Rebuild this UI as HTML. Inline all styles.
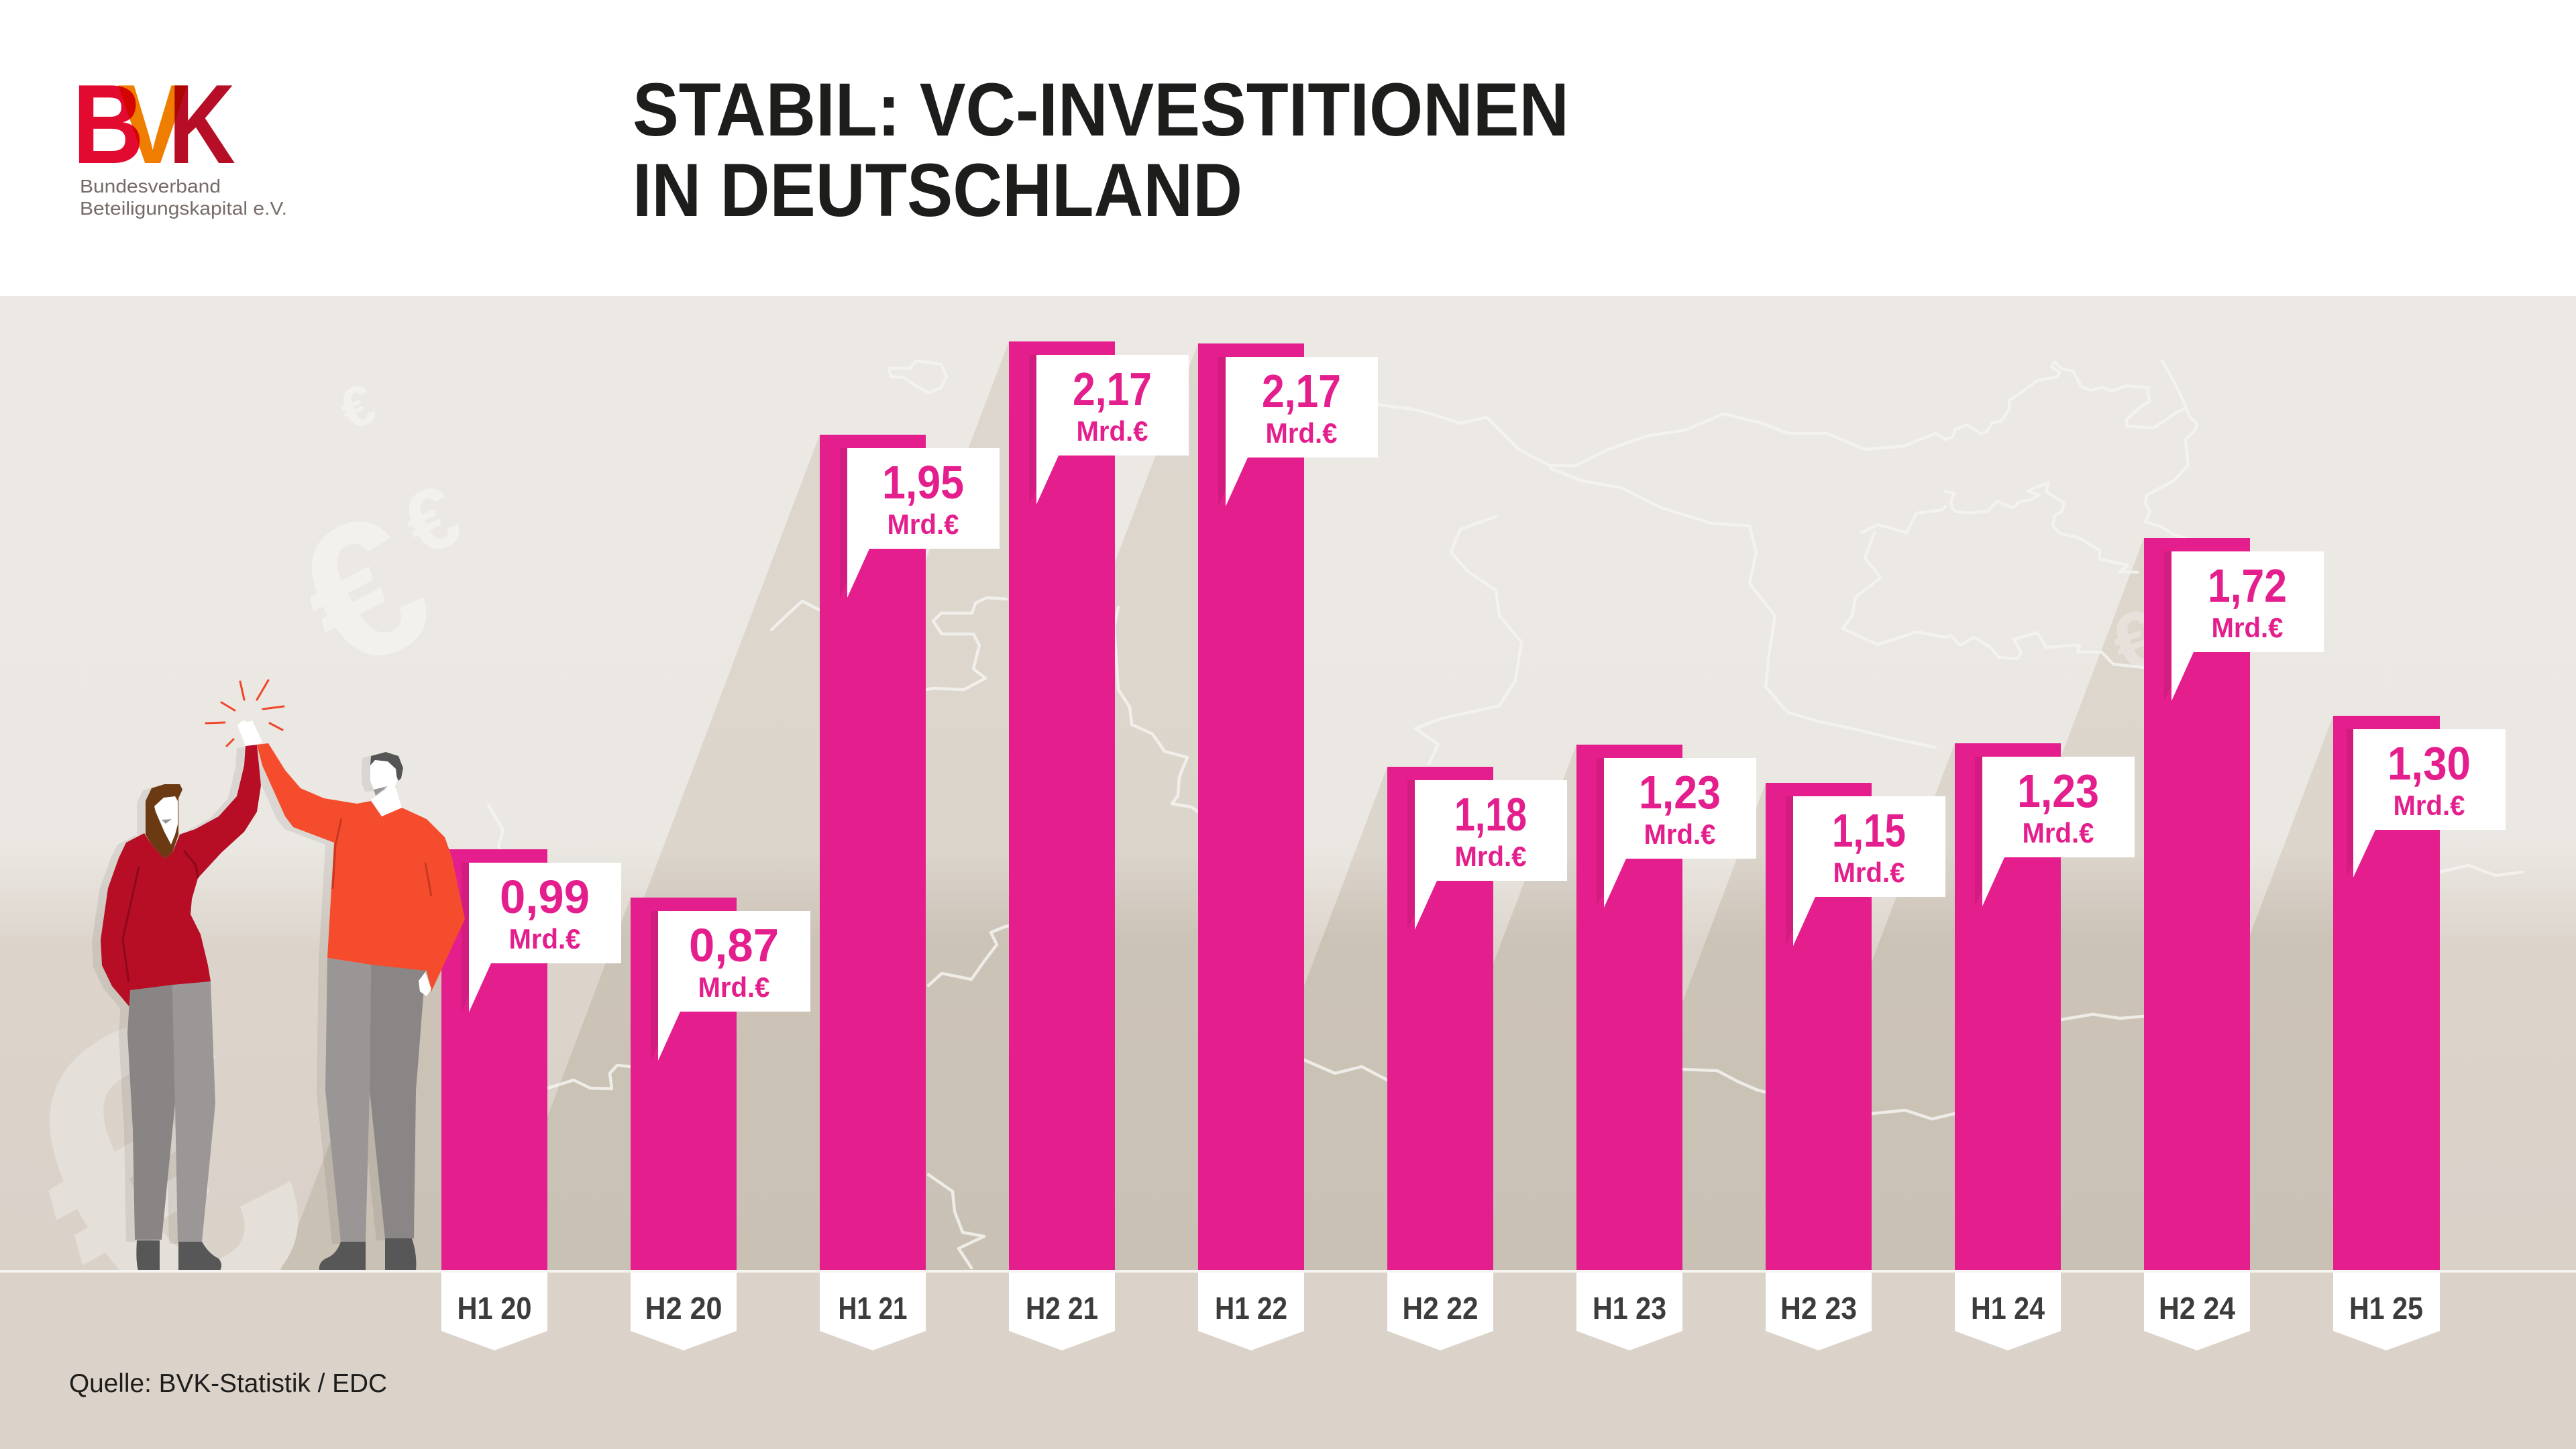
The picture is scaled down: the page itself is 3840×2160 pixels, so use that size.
<!DOCTYPE html>
<html><head><meta charset="utf-8"><style>
html,body{margin:0;padding:0;background:#fff;width:3840px;height:2160px;overflow:hidden;}
svg{display:block;}
text{font-family:"Liberation Sans",Arial,sans-serif;}
.n{font-size:70px;font-weight:700;fill:#e41f8d;text-anchor:middle;}
.m{font-size:42px;font-weight:700;fill:#e41f8d;text-anchor:middle;}
.c{font-size:46px;font-weight:700;fill:#3c3c3b;text-anchor:middle;}
.map{fill:none;stroke:#f5f3f0;stroke-width:4.5;stroke-linejoin:round;stroke-linecap:round;opacity:.85;}
</style></head><body>
<svg width="3840" height="2160" viewBox="0 0 3840 2160" xmlns="http://www.w3.org/2000/svg" overflow="hidden">
<defs>
<linearGradient id="lit" gradientUnits="userSpaceOnUse" x1="0" y1="441" x2="0" y2="1894">
<stop offset="0" stop-color="#ece9e4"/><stop offset="0.56" stop-color="#ebe8e3"/><stop offset="0.67" stop-color="#dcd4cb"/><stop offset="1" stop-color="#dad2c9"/>
</linearGradient>
<linearGradient id="shd" gradientUnits="userSpaceOnUse" x1="0" y1="441" x2="0" y2="1894">
<stop offset="0" stop-color="#ddd7ce"/><stop offset="0.57" stop-color="#dcd5cc"/><stop offset="0.66" stop-color="#ccc3b7"/><stop offset="1" stop-color="#cac1b5"/>
</linearGradient>
<clipPath id="chart"><rect x="0" y="441" width="3840" height="1453"/></clipPath>
</defs>

<!-- header -->
<rect x="0" y="0" width="3840" height="441" fill="#fff"/>
<!-- chart background -->
<rect x="0" y="441" width="3840" height="1453" fill="url(#lit)"/>

<g clip-path="url(#chart)">
<!-- bar shadows -->
<g fill="url(#shd)">
<polygon points="658,1266 419,1894 658,1894"/>
<polygon points="940,1338 729,1894 940,1894"/>
<polygon points="1222,648 749,1894 1222,1894"/>
<polygon points="1504,509 978,1894 1504,1894"/>
<polygon points="1786,512 1261,1894 1786,1894"/>
<polygon points="2068,1143 1783,1894 2068,1894"/>
<polygon points="2350,1110 2052,1894 2350,1894"/>
<polygon points="2632,1167 2356,1894 2632,1894"/>
<polygon points="2914,1108 2615,1894 2914,1894"/>
<polygon points="3196,802 2781,1894 3196,1894"/>
<polygon points="3478,1067 3164,1894 3478,1894"/>
</g>
<!-- euro symbols -->
<text x="240" y="1750" font-size="620" font-weight="700" fill="#e4dfd9" text-anchor="middle" dominant-baseline="central" transform="rotate(-30 240 1750)">€</text>
<text x="541" y="882" font-size="290" font-weight="700" fill="#f3f1ee" text-anchor="middle" dominant-baseline="central" transform="rotate(-28 541 882)">€</text>
<text x="643" y="775" font-size="130" font-weight="700" fill="#f3f1ee" text-anchor="middle" dominant-baseline="central" transform="rotate(-25 643 775)">€</text>
<text x="533" y="607" font-size="85" font-weight="700" fill="#f3f1ee" text-anchor="middle" dominant-baseline="central" transform="rotate(-20 533 607)">€</text>
<text x="3185" y="955" font-size="120" font-weight="700" fill="#e6e1da" text-anchor="middle" dominant-baseline="central" transform="rotate(-20 3185 955)">€</text>

<!-- map outlines -->
<polyline class="map" points="2053,603 2106,610 2134,617 2177,631 2216,622 2264,670 2311,694 2350,694 2397,670 2455,650 2512,641 2570,617 2627,631 2665,646 2723,646 2780,670 2838,665 2885,646 2900,655"/>
<polyline class="map" points="2311,698 2359,717 2417,727 2474,756 2551,780 2608,784 2618,823 2608,870 2646,918 2637,976 2632,1024 2665,1062 2713,1076 2761,1086 2818,1100 2885,1114"/>
<polyline class="map" points="2230,770 2177,789 2163,823 2187,851 2230,880 2235,918 2268,957 2259,1014 2235,1052 2149,1071 2110,1086 2144,1110 2130,1138"/>
<polyline class="map" points="2900,655 2910,652 2915,640 2933,633 2943,640 2953,647 2962,643 2970,630 2983,628 2995,610 2995,597 3013,585 3037,567 3067,562 3070,555 3058,547 3063,539 3073,550 3090,553 3103,577 3117,582 3133,577 3147,583 3170,575 3202,578 3202,590 3205,598 3193,605 3170,625 3170,635 3210,638 3230,625 3247,613 3258,610"/>
<polyline class="map" points="3223,538 3243,573 3260,610 3263,620 3275,632 3273,640 3258,655 3262,693 3240,717 3200,738 3198,750 3205,762 3198,778 3222,785 3240,797 3257,802"/>
<polyline class="map" points="2900,733 2913,735 2908,750 2913,762 2933,765 2963,762 2977,747 3000,757 3010,748 3027,745 3040,738 3023,732 3033,727 3053,720 3050,733 3077,750 3073,763 3063,768 3060,783 3070,795 3100,802 3117,813 3130,820 3130,833 3160,840 3172,843 3160,852 3187,853"/>
<polyline class="map" points="2900,950 2908,947 2922,962 2943,950 2967,965 2980,980 3007,982 3013,973 3002,953 3037,943 3050,965 3087,962 3100,962 3097,972 3133,972 3150,990 3196,995"/>
<polyline class="map" points="2775,794 2799,782 2842,794 2857,765 2895,760 2900,755"/>
<polyline class="map" points="2794,794 2780,832 2804,861 2766,890 2761,918 2747,937 2799,961 2857,942 2900,950"/>
<polyline class="map" points="1150,939 1176,914 1196,896 1219,908 1230,912"/>
<polyline class="map" points="1500,893 1471,891 1454,899 1449,914 1403,914 1391,926 1404,945 1451,945 1460,962 1451,997 1469,1011 1437,1028 1391,1026 1370,1030"/>
<polyline class="map" points="1667,905 1661,934 1667,1028 1684,1054 1687,1080 1718,1094 1736,1120 1770,1129 1758,1158 1756,1186 1747,1198 1776,1203 1786,1210"/>
<polyline class="map" points="1328,549 1357,549 1365,538 1382,540 1403,543 1411,561 1403,578 1385,586 1365,575 1348,563 1328,561 1325,549"/>
<polyline class="map" points="728,1200 750,1237 743,1261 760,1290"/>
<polyline class="map" points="817,1622 855,1610 880,1622 912,1623 909,1600 920,1588 940,1590"/>
<polyline class="map" points="1384,1469 1404,1451 1448,1460 1467,1433 1486,1408 1477,1390 1499,1381 1504,1380"/>
<polyline class="map" points="1384,1751 1420,1776 1423,1806 1435,1837 1467,1843 1429,1861 1448,1890"/>
<polyline class="map" points="2508,1594 2560,1596 2590,1612 2620,1625 2632,1628"/>
<polyline class="map" points="2790,1660 2840,1655 2880,1668 2914,1660"/>
<polyline class="map" points="3072,1520 3120,1512 3160,1518 3196,1515"/>
<polyline class="map" points="1944,1580 1990,1600 2030,1590 2068,1610"/>
<polyline class="map" points="3636,1300 3680,1290 3720,1305 3760,1300"/>
</g>

<!-- bars with value labels -->
<g>
<g transform="translate(658,1266)"><rect x="0" y="0" width="158" height="628" fill="#e41f8d"/><polygon points="30,20 257,20 257,170 63,170 30,243" fill="#d21c7f"/><polygon points="41,20 268,20 268,170 74,170 41,243" fill="#fff"/><text class="n" x="154" y="95" textLength="134" lengthAdjust="spacingAndGlyphs">0,99</text><text class="m" x="154" y="148" textLength="107" lengthAdjust="spacingAndGlyphs">Mrd.€</text></g>
<g transform="translate(940,1338)"><rect x="0" y="0" width="158" height="556" fill="#e41f8d"/><polygon points="30,20 257,20 257,170 63,170 30,243" fill="#d21c7f"/><polygon points="41,20 268,20 268,170 74,170 41,243" fill="#fff"/><text class="n" x="154" y="95" textLength="134" lengthAdjust="spacingAndGlyphs">0,87</text><text class="m" x="154" y="148" textLength="107" lengthAdjust="spacingAndGlyphs">Mrd.€</text></g>
<g transform="translate(1222,648)"><rect x="0" y="0" width="158" height="1246" fill="#e41f8d"/><polygon points="30,20 257,20 257,170 63,170 30,243" fill="#d21c7f"/><polygon points="41,20 268,20 268,170 74,170 41,243" fill="#fff"/><text class="n" x="154" y="95" textLength="122" lengthAdjust="spacingAndGlyphs">1,95</text><text class="m" x="154" y="148" textLength="107" lengthAdjust="spacingAndGlyphs">Mrd.€</text></g>
<g transform="translate(1504,509)"><rect x="0" y="0" width="158" height="1385" fill="#e41f8d"/><polygon points="30,20 257,20 257,170 63,170 30,243" fill="#d21c7f"/><polygon points="41,20 268,20 268,170 74,170 41,243" fill="#fff"/><text class="n" x="154" y="95" textLength="118" lengthAdjust="spacingAndGlyphs">2,17</text><text class="m" x="154" y="148" textLength="107" lengthAdjust="spacingAndGlyphs">Mrd.€</text></g>
<g transform="translate(1786,512)"><rect x="0" y="0" width="158" height="1382" fill="#e41f8d"/><polygon points="30,20 257,20 257,170 63,170 30,243" fill="#d21c7f"/><polygon points="41,20 268,20 268,170 74,170 41,243" fill="#fff"/><text class="n" x="154" y="95" textLength="118" lengthAdjust="spacingAndGlyphs">2,17</text><text class="m" x="154" y="148" textLength="107" lengthAdjust="spacingAndGlyphs">Mrd.€</text></g>
<g transform="translate(2068,1143)"><rect x="0" y="0" width="158" height="751" fill="#e41f8d"/><polygon points="30,20 257,20 257,170 63,170 30,243" fill="#d21c7f"/><polygon points="41,20 268,20 268,170 74,170 41,243" fill="#fff"/><text class="n" x="154" y="95" textLength="108" lengthAdjust="spacingAndGlyphs">1,18</text><text class="m" x="154" y="148" textLength="107" lengthAdjust="spacingAndGlyphs">Mrd.€</text></g>
<g transform="translate(2350,1110)"><rect x="0" y="0" width="158" height="784" fill="#e41f8d"/><polygon points="30,20 257,20 257,170 63,170 30,243" fill="#d21c7f"/><polygon points="41,20 268,20 268,170 74,170 41,243" fill="#fff"/><text class="n" x="154" y="95" textLength="122" lengthAdjust="spacingAndGlyphs">1,23</text><text class="m" x="154" y="148" textLength="107" lengthAdjust="spacingAndGlyphs">Mrd.€</text></g>
<g transform="translate(2632,1167)"><rect x="0" y="0" width="158" height="727" fill="#e41f8d"/><polygon points="30,20 257,20 257,170 63,170 30,243" fill="#d21c7f"/><polygon points="41,20 268,20 268,170 74,170 41,243" fill="#fff"/><text class="n" x="154" y="95" textLength="110" lengthAdjust="spacingAndGlyphs">1,15</text><text class="m" x="154" y="148" textLength="107" lengthAdjust="spacingAndGlyphs">Mrd.€</text></g>
<g transform="translate(2914,1108)"><rect x="0" y="0" width="158" height="786" fill="#e41f8d"/><polygon points="30,20 257,20 257,170 63,170 30,243" fill="#d21c7f"/><polygon points="41,20 268,20 268,170 74,170 41,243" fill="#fff"/><text class="n" x="154" y="95" textLength="122" lengthAdjust="spacingAndGlyphs">1,23</text><text class="m" x="154" y="148" textLength="107" lengthAdjust="spacingAndGlyphs">Mrd.€</text></g>
<g transform="translate(3196,802)"><rect x="0" y="0" width="158" height="1092" fill="#e41f8d"/><polygon points="30,20 257,20 257,170 63,170 30,243" fill="#d21c7f"/><polygon points="41,20 268,20 268,170 74,170 41,243" fill="#fff"/><text class="n" x="154" y="95" textLength="118" lengthAdjust="spacingAndGlyphs">1,72</text><text class="m" x="154" y="148" textLength="107" lengthAdjust="spacingAndGlyphs">Mrd.€</text></g>
<g transform="translate(3478,1067)"><rect x="0" y="0" width="159" height="827" fill="#e41f8d"/><polygon points="20,20 247,20 247,170 53,170 20,241" fill="#d21c7f"/><polygon points="30,20 257,20 257,170 63,170 30,241" fill="#fff"/><text class="n" x="143" y="95" textLength="124" lengthAdjust="spacingAndGlyphs">1,30</text><text class="m" x="143" y="148" textLength="107" lengthAdjust="spacingAndGlyphs">Mrd.€</text></g>
</g>

<!-- figures: shadow -->
<g fill="#000" opacity="0.07" transform="translate(-13,3)">
<polygon points="215,1242 188,1256 177,1279 161,1324 150,1401 152,1439 167,1470 194,1502 194,1476 314,1463 310,1439 299,1393 284,1363 286,1340 295,1309 330,1271 364,1240 383,1210 389,1171 383,1110 366,1112 364,1141 353,1187 326,1217 291,1236 268,1244 257,1271 245,1280 226,1259"/>
<polygon points="217,1194 226,1175 245,1169 268,1169 272,1177 266,1190 266,1244 257,1271 245,1280 226,1259 217,1244"/>
<polygon points="194,1476 257,1468 261,1645 241,1848 201,1848 198,1684 190,1540"/>
<polygon points="257,1468 314,1463 321,1645 301,1851 265,1851 261,1645"/>
<polygon points="383,1110 400,1108 425,1148 448,1175 483,1190 532,1198 553,1194 569,1217 599,1204 636,1221 663,1248 674,1279 693,1370 643,1478 636,1447 598,1445 488,1428 494,1324 498,1256 437,1233 425,1217 391,1141"/>
<polygon points="552,1141 553,1127 575,1121 594,1127 601,1145 598,1160 592,1175 557,1177 552,1164"/>
<polygon points="488,1428 553,1438 634,1447 620,1626 617,1846 574,1846 551,1626 545,1851 508,1851 485,1626"/>
</g>
<!-- woman -->
<g>
<polygon fill="#b70d25" points="215,1242 188,1256 177,1279 161,1324 150,1401 152,1439 167,1470 194,1502 194,1476 314,1463 310,1439 299,1393 284,1363 286,1340 295,1309 330,1271 364,1240 383,1210 389,1171 383,1110 366,1112 364,1141 353,1187 326,1217 291,1236 268,1244 257,1271 245,1280 226,1259"/>
<polyline points="207,1292 183,1400 192,1464" fill="none" stroke="#8a0a1c" stroke-width="3"/>
<polyline points="274,1268 292,1290 295,1309" fill="none" stroke="#8a0a1c" stroke-width="3"/>
<polygon fill="#6b3a12" points="217,1194 226,1175 245,1169 268,1169 272,1177 266,1190 266,1244 257,1271 245,1280 226,1259 217,1244"/>
<polygon fill="#fff" points="230,1202 244,1189 261,1187 265,1194 265,1229 261,1244 255,1259 245,1240 232,1210"/>
<polygon fill="#9a9696" points="241,1222 256,1221 247,1228"/>
<polygon fill="#898585" points="194,1476 257,1468 261,1645 241,1848 201,1848 198,1684 190,1540"/>
<polygon fill="#9b9797" points="257,1468 314,1463 321,1645 301,1851 265,1851 261,1645"/>
<path fill="#575757" d="M204,1849 L238,1849 L238,1894 L206,1894 Q202,1880 204,1849 Z"/>
<path fill="#575757" d="M266,1851 L301,1851 Q312,1870 326,1876 Q333,1885 328,1894 L266,1894 Z"/>
</g>
<!-- man -->
<g>
<polygon fill="#f54c2e" points="383,1110 400,1108 425,1148 448,1175 483,1190 532,1198 553,1194 569,1217 599,1204 636,1221 663,1248 674,1279 693,1370 643,1478 636,1447 598,1445 488,1428 494,1324 498,1256 437,1233 425,1217 391,1141"/>
<polyline points="509,1220 500,1260 496,1325" fill="none" stroke="#c8381f" stroke-width="3"/>
<polyline points="634,1286 643,1336" fill="none" stroke="#c8381f" stroke-width="3"/>
<polygon fill="#555" points="552,1141 553,1127 575,1121 594,1127 601,1145 598,1160 594,1164 588,1150 570,1140"/>
<polygon fill="#fff" points="552,1141 559,1133 578,1135 590,1146 592,1164 588,1175 557,1177 552,1164"/>
<polygon fill="#9a9696" points="557,1177 578,1172 560,1186"/>
<polygon fill="#fff" points="553,1192 578,1175 590,1175 599,1204 569,1217"/>
<polygon fill="#9a9696" points="488,1428 553,1438 551,1626 545,1851 508,1851 485,1626"/>
<polygon fill="#8a8686" points="553,1438 634,1447 620,1626 617,1846 574,1846 551,1626"/>
<path fill="#575757" d="M508,1851 L545,1851 L545,1894 L476,1894 Q474,1880 490,1874 Q502,1868 508,1851 Z"/>
<path fill="#575757" d="M574,1846 L614,1846 Q622,1870 620,1894 L574,1894 Z"/>
<polygon fill="#fff" points="624,1462 634,1449 643,1474 636,1485 626,1478"/>
<polygon fill="#fff" points="354,1081 362,1074 370,1076 376,1074 391,1106 383,1110 366,1112"/>
</g>
<!-- sparks -->
<g stroke="#f0462a" stroke-width="3" stroke-linecap="round">
<line x1="358" y1="1016" x2="364" y2="1043"/>
<line x1="400" y1="1014" x2="383" y2="1043"/>
<line x1="330" y1="1047" x2="350" y2="1059"/>
<line x1="307" y1="1078" x2="335" y2="1077"/>
<line x1="392" y1="1057" x2="423" y2="1053"/>
<line x1="402" y1="1078" x2="421" y2="1088"/>
<line x1="338" y1="1112" x2="348" y2="1102"/>
</g>

<!-- baseline and lower area -->
<rect x="0" y="1893" width="3840" height="4" fill="#f6f4f1"/>
<rect x="0" y="1897" width="3840" height="263" fill="#dbd3ca"/>

<!-- category labels -->
<g>
<g transform="translate(658,0)"><polygon points="0,1897 158,1897 158,1984 79,2013 0,1984" fill="#fff"/><text class="c" x="79" y="1966" textLength="111" lengthAdjust="spacingAndGlyphs">H1 20</text></g>
<g transform="translate(940,0)"><polygon points="0,1897 158,1897 158,1984 79,2013 0,1984" fill="#fff"/><text class="c" x="79" y="1966" textLength="115" lengthAdjust="spacingAndGlyphs">H2 20</text></g>
<g transform="translate(1222,0)"><polygon points="0,1897 158,1897 158,1984 79,2013 0,1984" fill="#fff"/><text class="c" x="79" y="1966" textLength="103" lengthAdjust="spacingAndGlyphs">H1 21</text></g>
<g transform="translate(1504,0)"><polygon points="0,1897 158,1897 158,1984 79,2013 0,1984" fill="#fff"/><text class="c" x="79" y="1966" textLength="108" lengthAdjust="spacingAndGlyphs">H2 21</text></g>
<g transform="translate(1786,0)"><polygon points="0,1897 158,1897 158,1984 79,2013 0,1984" fill="#fff"/><text class="c" x="79" y="1966" textLength="108" lengthAdjust="spacingAndGlyphs">H1 22</text></g>
<g transform="translate(2068,0)"><polygon points="0,1897 158,1897 158,1984 79,2013 0,1984" fill="#fff"/><text class="c" x="79" y="1966" textLength="113" lengthAdjust="spacingAndGlyphs">H2 22</text></g>
<g transform="translate(2350,0)"><polygon points="0,1897 158,1897 158,1984 79,2013 0,1984" fill="#fff"/><text class="c" x="79" y="1966" textLength="110" lengthAdjust="spacingAndGlyphs">H1 23</text></g>
<g transform="translate(2632,0)"><polygon points="0,1897 158,1897 158,1984 79,2013 0,1984" fill="#fff"/><text class="c" x="79" y="1966" textLength="114" lengthAdjust="spacingAndGlyphs">H2 23</text></g>
<g transform="translate(2914,0)"><polygon points="0,1897 158,1897 158,1984 79,2013 0,1984" fill="#fff"/><text class="c" x="79" y="1966" textLength="110" lengthAdjust="spacingAndGlyphs">H1 24</text></g>
<g transform="translate(3196,0)"><polygon points="0,1897 158,1897 158,1984 79,2013 0,1984" fill="#fff"/><text class="c" x="79" y="1966" textLength="114" lengthAdjust="spacingAndGlyphs">H2 24</text></g>
<g transform="translate(3478,0)"><polygon points="0,1897 159,1897 159,1984 79,2013 0,1984" fill="#fff"/><text class="c" x="79" y="1966" textLength="110" lengthAdjust="spacingAndGlyphs">H1 25</text></g>
</g>

<!-- source -->
<text x="103" y="2075" font-size="39" fill="#1d1d1b" textLength="474" lengthAdjust="spacingAndGlyphs">Quelle: BVK-Statistik / EDC</text>

<!-- logo -->
<g font-weight="700" font-size="168">
<text x="108" y="243" fill="#e30a2f" textLength="107" lengthAdjust="spacingAndGlyphs">B</text>
<text x="175" y="243" fill="#ef7d00" textLength="105" lengthAdjust="spacingAndGlyphs" style="mix-blend-mode:multiply">V</text>
<text x="251" y="243" fill="#b70e27" textLength="100" lengthAdjust="spacingAndGlyphs" style="mix-blend-mode:multiply">K</text>
</g>
<text x="119" y="287" font-size="28" fill="#766c67" textLength="210" lengthAdjust="spacingAndGlyphs">Bundesverband</text>
<text x="119" y="320" font-size="28" fill="#766c67" textLength="309" lengthAdjust="spacingAndGlyphs">Beteiligungskapital e.V.</text>

<!-- title -->
<text x="943" y="202" font-size="112" font-weight="700" fill="#1d1d1b" textLength="1396" lengthAdjust="spacingAndGlyphs">STABIL: VC-INVESTITIONEN</text>
<text x="943" y="322" font-size="112" font-weight="700" fill="#1d1d1b" textLength="909" lengthAdjust="spacingAndGlyphs">IN DEUTSCHLAND</text>
</svg>
</body></html>
